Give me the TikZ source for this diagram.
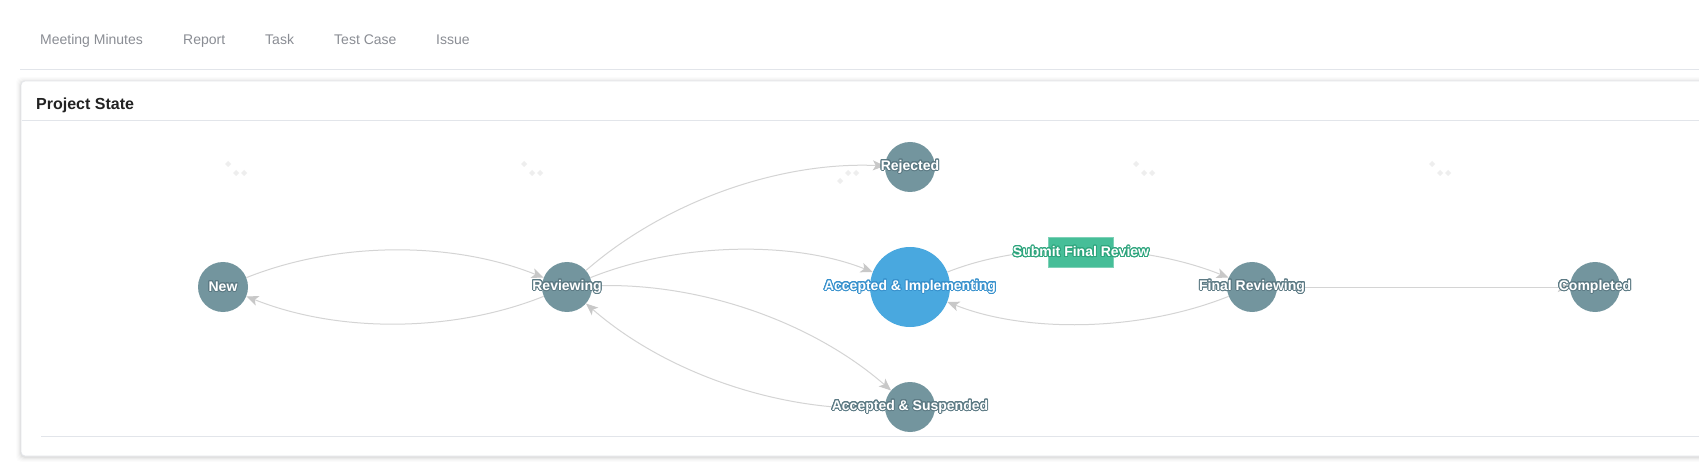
\documentclass[tikz,border=0pt]{standalone}
\usepackage{fontspec}
\setmainfont{Liberation Sans}
\usepackage{contour}
\contourlength{0.9pt}
\contournumber{24}
\usetikzlibrary{arrows.meta}
\definecolor{nodecol}{RGB}{115,149,158}
\definecolor{outgray}{RGB}{92,122,132}
\definecolor{aicol}{RGB}{73,168,223}
\definecolor{outblue}{RGB}{55,145,205}
\definecolor{greencol}{RGB}{70,190,152}
\definecolor{outgreen}{RGB}{45,165,125}
\definecolor{edgecol}{RGB}{212,212,212}
\definecolor{arrowcol}{RGB}{200,200,200}
\definecolor{tabcol}{RGB}{138,141,148}
\definecolor{sepcol}{RGB}{226,229,234}
\definecolor{cardcol}{RGB}{228,230,234}
\definecolor{diamcol}{RGB}{238,238,238}
\definecolor{titlecol}{RGB}{34,34,34}
\newcommand\olab[2]{\textcolor{white}{\contour{#1}{#2}}}
\begin{document}
\begin{tikzpicture}[x=1pt,y=-1pt,
  tab/.style={anchor=base west,inner sep=0pt,text=tabcol,font=\fontsize{14}{16}\selectfont},
  ptitle/.style={anchor=base west,inner sep=0pt,text=titlecol,font=\fontsize{16}{18}\selectfont\bfseries},
  st/.style={circle,fill=nodecol,minimum size=50pt,inner sep=0pt},
  big/.style={circle,fill=aicol,minimum size=80pt,inner sep=0pt},
  lab/.style={inner sep=0pt,font=\fontsize{14}{16}\selectfont\bfseries},
  edge/.style={draw=edgecol,line width=1pt,-{Stealth[length=12pt,width=10pt,inset=3pt,color=arrowcol]}},
  lblbox/.style={rectangle,fill=greencol,draw=greencol!70!white,minimum width=65pt,minimum height=30pt,inner sep=0pt},
  diam/.style={fill=diamcol}
]
\useasboundingbox (0,0) rectangle (1699,462);
\fill[white] (0,0) rectangle (1699,462);

% tabs
\node[tab] (t1) at (40,45) {Meeting Minutes};
\node[tab] (t2) at (183,45) {Report};
\node[tab] (t3) at (265,45) {Task};
\node[tab] (t4) at (334,45) {Test Case};
\node[tab] (t5) at (436,45) {Issue};
\draw[sepcol,line width=1pt] (20,69.5) -- (1699,69.5);

% card
\foreach \i/\o in {5/0.012,4/0.015,3/0.02,2/0.03,1/0.04}
  \fill[black,opacity=\o,rounded corners=5] ({21-\i},{81-\i+1}) rectangle ({1730+\i},{456+\i+1});
\draw[cardcol,fill=white,rounded corners=4,line width=0.8pt] (21,81) rectangle (1730,456);
\node[ptitle] (title) at (36,110) {Project State};
\draw[sepcol,line width=1pt] (21.5,121) -- (1699,121);
\draw[sepcol,line width=1pt] (41,436) -- (1699,436);

% faint diamonds
\foreach \x/\y in {228/164,236/173,244/173, 524/164,532/173,540/173,
                   840/181,848/173,856/173, 1136/164,1144/173,1152/173,
                   1432/164,1440/173,1448/173}
  \fill[diam] ({\x-3},\y) -- (\x,{\y-3}) -- ({\x+3},\y) -- (\x,{\y+3}) -- cycle;

% state nodes
\node[st] (new) at (223,287) {};
\node[st] (rev) at (567,287) {};
\node[st] (rej) at (910,167) {};
\node[big] (ai) at (910,287) {};
\node[st] (as) at (910,407) {};
\node[st] (fr) at (1252,287) {};
\node[st] (comp) at (1595,287) {};

% edges
\draw[edge] (new) .. controls (337.7,241.1) and (452.3,241.1) .. (rev);
\draw[edge] (rev) .. controls (452.3,332.9) and (337.7,332.9) .. (new);
\draw[edge] (rev) .. controls (665.3,201.3) and (779.7,161.3) .. (rej);
\draw[edge] (rev) .. controls (681.3,241.3) and (795.7,241.3) .. (ai);
\draw[edge] (rev) .. controls (697.3,281.3) and (811.7,321.3) .. (as);
\draw[edge] (as) .. controls (779.7,412.7) and (665.3,372.7) .. (rev);
\draw[edge] (ai) .. controls (1024,241.4) and (1138,241.4) .. (fr);
\draw[edge] (fr) .. controls (1138,332.6) and (1024,332.6) .. (ai);
\draw[edge] (fr) -- (comp);

% edge label box
\node[lblbox] (lb) at (1080.5,252) {};

% labels
\node[lab] (newl) at (new) {\olab{outgray}{New}};
\node[lab] (revl) at (rev) {\olab{outgray}{Reviewing}};
\node[lab] (rejl) at (rej) {\olab{outgray}{Rejected}};
\node[lab] (ail) at (ai) {\olab{outblue}{Accepted \& Implementing}};
\node[lab] (asl) at (as) {\olab{outgray}{Accepted \& Suspended}};
\node[lab] (frl) at (fr) {\olab{outgray}{Final Reviewing}};
\node[lab] (compl) at (comp) {\olab{outgray}{Completed}};
\node[lab] (lbt) at (1081,252) {\olab{outgreen}{Submit Final Review}};
\end{tikzpicture}
\end{document}
